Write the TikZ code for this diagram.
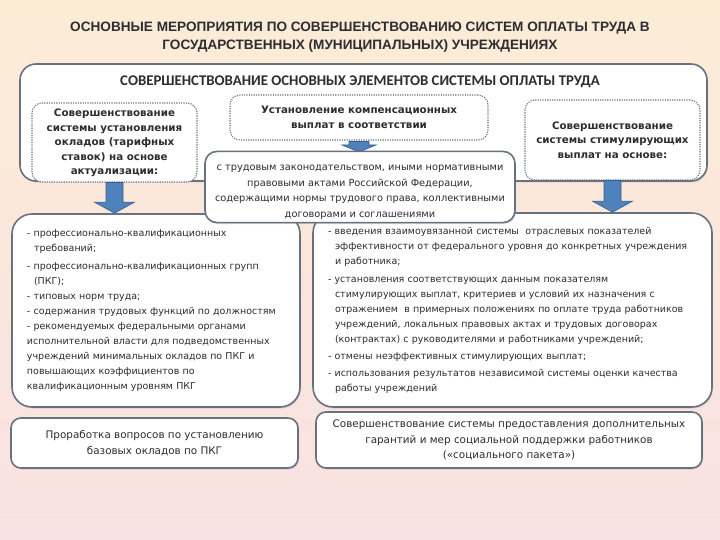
\documentclass[tikz,border=0pt]{standalone}
\usepackage{fontspec}
\setmainfont{DejaVu Sans}
\newfontfamily\titlefont{Liberation Sans}
\newfontfamily\headfont{Carlito}
\usetikzlibrary{calc}
\usetikzlibrary{shadows}
\definecolor{bgtop}{RGB}{251,236,214}
\definecolor{bgmid}{RGB}{247,196,142}
\definecolor{bgbottom}{RGB}{250,225,226}
\definecolor{boxline}{RGB}{104,114,126}
\definecolor{arrowblue}{RGB}{79,129,189}
\definecolor{arrowedge}{RGB}{56,93,138}
\definecolor{textgray}{RGB}{45,45,50}

\begin{document}
\begin{tikzpicture}[x=1pt, y=-1pt,
    panel/.style={draw=boxline, line width=1.6pt, fill=white, rounded corners=#1, text=textgray,
      drop shadow={shadow xshift=1pt, shadow yshift=-1.5pt, opacity=0.25}},
    panel/.default=12pt,
    dotbox/.style={draw=boxline, line width=1.1pt, dash pattern=on 1.2pt off 1.2pt, fill=white,
      rounded corners=10pt, align=center, text=textgray, inner sep=0pt,
      font=\bfseries\fontsize{10.3}{14.5}\selectfont},
    listtext/.style={align=left, font=\fontsize{9.5}{15}\selectfont},
    blockarrow/.style={fill=arrowblue, draw=arrowedge, line width=0.6pt}]
    \shade[top color=bgtop, middle color=bgmid, bottom color=bgbottom] (0,0) rectangle (720,540);
    \useasboundingbox (0,0) rectangle (720,540);

    \node[font=\titlefont\bfseries\fontsize{13.6}{18}\selectfont, text=textgray, align=center] (title) at (360,37)
        {ОСНОВНЫЕ МЕРОПРИЯТИЯ ПО СОВЕРШЕНСТВОВАНИЮ СИСТЕМ ОПЛАТЫ ТРУДА В\\ГОСУДАРСТВЕННЫХ (МУНИЦИПАЛЬНЫХ) УЧРЕЖДЕНИЯХ};

    % upper frame with the three headings
    \node[panel=16pt, minimum width=687pt, minimum height=117pt, inner sep=0pt] (frame) at (363.5,122.5) {};
    \node[font=\headfont\bfseries\fontsize{14.8}{16}\selectfont, text=textgray] (heading) at (360,82)
        {СОВЕРШЕНСТВОВАНИЕ ОСНОВНЫХ ЭЛЕМЕНТОВ СИСТЕМЫ ОПЛАТЫ ТРУДА};
    \node[dotbox, minimum width=165pt, minimum height=79pt] (lefthead) at (114.5,142.5)
        {\rule{0pt}{9pt}Совершенствование\\системы установления\\окладов (тарифных\\ставок) на основе\\актуализации:};
    \node[dotbox, minimum width=258pt, minimum height=45pt] (comp) at (359,117.5)
        {Установление компенсационных\\выплат в соответствии};
    \node[dotbox, minimum width=175pt, minimum height=80pt] (righthead) at (612.5,140)
        {Совершенствование\\системы стимулирующих\\выплат на основе:};

    % lists
    \node[panel=20pt, listtext, text width=258pt, minimum height=193pt, inner xsep=15pt, inner ysep=0pt] (leftlist) at (156,310.5)
        {- профессионально-квалификационных\\
         \hspace*{7pt}требований;\\[3pt]
         - профессионально-квалификационных групп\\
         \hspace*{7pt}(ПКГ);\\
         - типовых норм труда;\\
         - содержания трудовых функций по должностям\\
         - рекомендуемых федеральными органами\\
         исполнительной власти для подведомственных\\
         учреждений минимальных окладов по ПКГ и\\
         повышающих коэффициентов по\\
         квалификационным уровням ПКГ};
    \node[panel=20pt, listtext, text width=369pt, minimum height=194pt, inner xsep=15pt, inner ysep=0pt] (rightlist) at (512.5,310)
        {- введения взаимоувязанной системы \ отраслевых показателей\\
         \hspace*{7pt}эффективности от федерального уровня до конкретных учреждения\\
         \hspace*{7pt}и работника;\\[3pt]
         - установления соответствующих данным показателям\\
         \hspace*{7pt}стимулирующих выплат, критериев и условий их назначения с\\
         \hspace*{7pt}отражением \ в примерных положениях по оплате труда работников\\
         \hspace*{7pt}учреждений, локальных правовых актах и трудовых договорах\\
         \hspace*{7pt}(контрактах) с руководителями и работниками учреждений;\\[2pt]
         - отмены неэффективных стимулирующих выплат;\\[2pt]
         - использования результатов независимой системы оценки качества\\
         \hspace*{7pt}работы учреждений};

    % block arrows
    \foreach \from/\to in {lefthead/leftlist, righthead/rightlist}
        \filldraw[blockarrow] ($(\from.south)+(-8.5,0)$) -- ($(\from.south |- \to.north)+(-8.5,-11)$)
            -- ($(\from.south |- \to.north)+(-20,-11)$) -- (\from.south |- \to.north)
            -- ($(\from.south |- \to.north)+(20,-11)$) -- ($(\from.south |- \to.north)+(8.5,-11)$)
            -- ($(\from.south)+(8.5,0)$) -- cycle;
    \filldraw[blockarrow] ($(comp.south)+(-10,1)$) -- ($(comp.south |- 0,152)+(-10,-7)$)
        -- ($(comp.south |- 0,152)+(-17,-7)$) -- (comp.south |- 0,152)
        -- ($(comp.south |- 0,152)+(17,-7)$) -- ($(comp.south |- 0,152)+(10,-7)$)
        -- ($(comp.south)+(10,1)$) -- cycle;

    \node[panel=12pt, minimum width=310pt, minimum height=70pt, align=center, font=\fontsize{9.8}{15.5}\selectfont] (legal) at (360,187)
        {\rule{0pt}{16pt}с трудовым законодательством, иными нормативными\\правовыми актами Российской Федерации,\\содержащими нормы трудового права, коллективными\\договорами и соглашениями};

    % bottom boxes
    \node[panel=10pt, minimum width=287pt, minimum height=50pt, align=center, font=\fontsize{10.4}{16}\selectfont] (basepay) at (154.5,443)
        {Проработка вопросов по установлению\\базовых окладов по ПКГ};
    \node[panel=10pt, minimum width=386pt, minimum height=56pt, align=center, font=\fontsize{10.4}{15.5}\selectfont] (social) at (509,440)
        {Совершенствование системы предоставления дополнительных\\гарантий и мер социальной поддержки работников\\(«социального пакета»)};
\end{tikzpicture}
\end{document}
